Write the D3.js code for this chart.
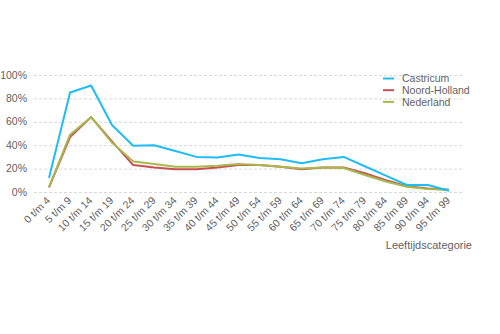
<!DOCTYPE html>
<meta charset="utf-8">
<style>
body {
  margin: 0;
  font-family: "Liberation Sans", Arial, sans-serif;
  background: #fff;
}
text {
  fill: #5f5f5f;
}
.grid line {
  stroke: #d9d9d9;
  stroke-dasharray: 3,2;
  stroke-width: 1;
}
.series {
  fill: none;
  stroke-width: 2;
  stroke-linejoin: round;
}
</style>
<body>
<script src="https://cdn.jsdelivr.net/npm/d3@7"></script>
<script>

var width = 500,
    height = 334;

var categories = ["0 t/m 4", "5 t/m 9", "10 t/m 14", "15 t/m 19", "20 t/m 24",
  "25 t/m 29", "30 t/m 34", "35 t/m 39", "40 t/m 44", "45 t/m 49",
  "50 t/m 54", "55 t/m 59", "60 t/m 64", "65 t/m 69", "70 t/m 74",
  "75 t/m 79", "80 t/m 84", "85 t/m 89", "90 t/m 94", "95 t/m 99"];

var castricum = [12, 85, 91, 57, 39.5, 40, 35, 30, 29.5, 32, 29, 28, 24.5, 28, 30, 22, 14, 6, 6, 1];
var noordHolland = [4, 47, 64, 43, 23, 21, 19.5, 19.5, 21, 23, 23, 21.5, 19.5, 21, 21, 16, 10, 5, 3, 2];
var nederland = [4, 49, 64, 42, 26, 24, 21.5, 21.5, 22.5, 24, 23, 21.5, 20, 21, 20.5, 14.5, 9, 4.5, 2.5, 2];

var yTicks = [0, 20, 40, 60, 80, 100];

var series = [
  {name: "Castricum", values: castricum, color: "#1fbcf5"},
  {name: "Noord-Holland", values: noordHolland, color: "#c94f52"},
  {name: "Nederland", values: nederland, color: "#a9b84c"}
];

var x = d3.scalePoint()
    .domain(categories)
    .range([49, 449]);

var y = d3.scaleLinear()
    .domain([0, 100])
    .range([192, 75]);

var svg = d3.select("body").append("svg")
    .attr("width", width)
    .attr("height", height);

// gridlines
svg.append("g")
    .attr("class", "grid")
  .selectAll("line")
    .data(yTicks)
  .enter().append("line")
    .attr("x1", 34)
    .attr("x2", 462)
    .attr("y1", function(d) { return y(d) + 0.5; })
    .attr("y2", function(d) { return y(d) + 0.5; });

// y labels
svg.append("g")
  .selectAll("text")
    .data(yTicks)
  .enter().append("text")
    .attr("x", 27)
    .attr("y", function(d) { return y(d); })
    .attr("dy", "0.35em")
    .attr("text-anchor", "end")
    .style("font-size", "10.5px")
    .text(function(d) { return d + "%"; });

// x labels
svg.append("g")
  .selectAll("text")
    .data(categories)
  .enter().append("text")
    .attr("transform", function(d) { return "translate(" + (x(d) + 2) + ",201) rotate(-45)"; })
    .attr("text-anchor", "end")
    .style("font-size", "10.5px")
    .text(function(d) { return d; });

svg.append("text")
    .attr("x", 472)
    .attr("y", 249)
    .attr("text-anchor", "end")
    .style("font-size", "11px")
    .text("Leeftijdscategorie");

var line = d3.line()
    .x(function(d, i) { return x(categories[i]); })
    .y(function(d) { return y(d); });

// draw order: red, green, blue on top
var drawOrder = [series[1], series[2], series[0]];

svg.append("g")
  .selectAll("path")
    .data(drawOrder)
  .enter().append("path")
    .attr("class", "series")
    .attr("stroke", function(d) { return d.color; })
    .attr("d", function(d) { return line(d.values); });

// legend
var legend = svg.append("g")
  .selectAll("g")
    .data(series)
  .enter().append("g")
    .attr("transform", function(d, i) { return "translate(383," + (78.5 + i * 11.7) + ")"; });

legend.append("line")
    .attr("x1", 0)
    .attr("x2", 11)
    .attr("stroke", function(d) { return d.color; })
    .attr("stroke-width", 2);

legend.append("text")
    .attr("x", 19)
    .attr("dy", "0.35em")
    .style("font-size", "10.5px")
    .text(function(d) { return d.name; });

</script>
